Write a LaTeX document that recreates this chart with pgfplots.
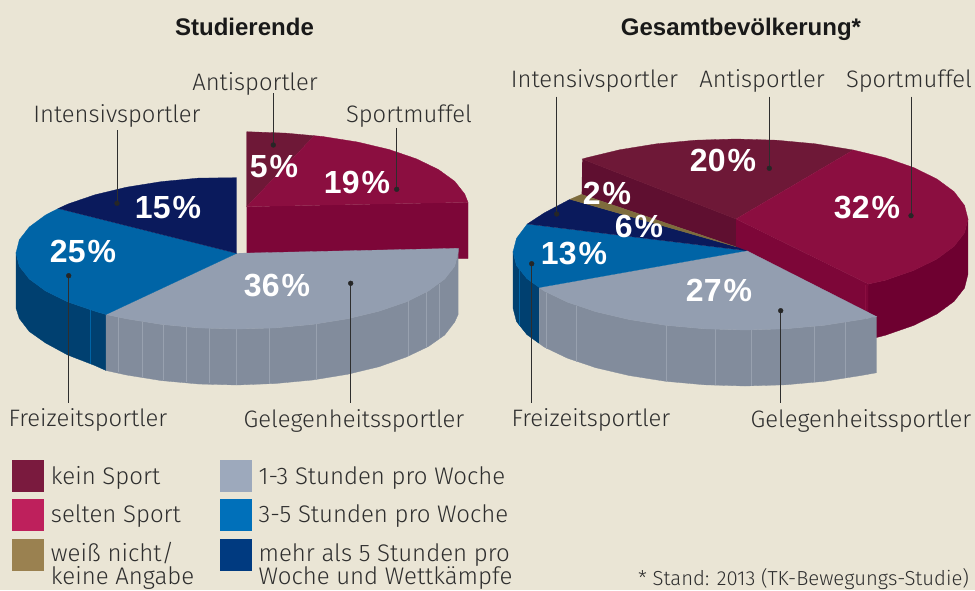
\documentclass[border=0pt]{standalone}
\usepackage{pgfplots}
\pgfplotsset{compat=1.18}
\usepackage{fontspec}
\setmainfont{Liberation Sans}
\newfontfamily\lightf{Fira Sans Light}
\definecolor{bg}{HTML}{EAE5D5}
\definecolor{ink}{HTML}{2E2E2E}
\definecolor{antitop}{HTML}{6E1837}
\definecolor{antiwall}{HTML}{5F0F30}
\definecolor{sporttop}{HTML}{8B0E40}
\definecolor{sportwall}{HTML}{7D0638}
\definecolor{sportside}{HTML}{6E0030}
\definecolor{graytop}{HTML}{939EB0}
\definecolor{grayside}{HTML}{828C9C}
\definecolor{grayline}{HTML}{98A1AF}
\definecolor{bluetop}{HTML}{0064A6}
\definecolor{blueside}{HTML}{004070}
\definecolor{navytop}{HTML}{0A1A5C}
\definecolor{goldtop}{HTML}{7E6C3D}
\definecolor{lega}{HTML}{7A1A3E}
\definecolor{legb}{HTML}{BE205C}
\definecolor{legc}{HTML}{9A8150}
\definecolor{legd}{HTML}{9DA9BC}
\definecolor{lege}{HTML}{0070BA}
\definecolor{legf}{HTML}{003A80}
\newcommand\poly[2]{\addplot[fill=#1,draw=#1,line width=0.3pt] coordinates {#2};}
\newcommand\seam[2]{\addplot[draw=#1,line width=0.5pt] coordinates {#2};}
\newcommand\lead[1]{\addplot[draw=ink,line width=0.9pt] coordinates {#1};}
\newcommand\dotm[1]{\addplot[only marks,mark=*,mark size=2.4pt,mark options={fill=black!85,draw=black!85}] coordinates {#1};}
\newcommand\lab[3]{\node[anchor=base,inner sep=0pt,text=ink,font=\lightf\fontsize{23.8}{23.8}\selectfont] at (axis cs:#1,#2) {#3};}
\newcommand\leg[3]{\node[anchor=base west,inner sep=0pt,text=ink,font=\lightf\fontsize{24}{24}\selectfont] at (axis cs:#1,#2) {#3};}
\newcommand\pct[3]{\node[anchor=base,inner sep=0pt,text=white,font=\fontsize{32}{32}\selectfont\bfseries] at (axis cs:#1,#2) {#3\hspace{2pt}\%};}
\newcommand\ttl[3]{\node[anchor=base,inner sep=0pt,text=black!90,font=\fontsize{24}{24}\selectfont\bfseries] at (axis cs:#1,#2) {#3};}
\begin{document}
\begin{tikzpicture}
\path[use as bounding box] (0,0) rectangle (975pt,590pt);
\fill[bg] (0,0) rectangle (975pt,590pt);
\begin{axis}[at={(0,0)},anchor=south west,scale only axis,width=975pt,height=590pt,
  xmin=0,xmax=975,ymin=0,ymax=590,y dir=reverse,hide axis,clip=false]
% ---- left pie: exploded red part
\poly{sportwall}{(246.7,206.7)(468,202.3)(468,258.5)(246.7,258.5)}
\poly{antitop}{(246.7,206.7)(246.7,131.7)(285.4,133.1)(314.3,135.7)}
\poly{sporttop}{(246.7,206.7)(314.3,135.7)(322.6,136.5)(357.5,142)(389.1,149.5)(416.3,158.8)(438.4,169.5)(454.7,181.3)(464.7,194)(468,202.3)}
% ---- left pie: sides
\poly{blueside}{(106,314.5)(94.9,311.2)(67.7,301.9)(45.6,291)(29.3,279)(19.3,266.2)(16,253)(16,308)(19.3,318.5)(29.3,331.5)(45.6,343)(67.7,355)(94.9,365.5)(106,370.5)}
\poly{grayside}{(458.3,248.3)(458,253)(454.7,266.2)(444.7,279)(428.4,291)(406.3,301.9)(379.1,311.2)(347.5,318.8)(312.6,324.4)(275.5,327.9)(237,329)(198.5,327.9)(161.4,324.4)(126.5,318.8)(106,314.5)(106,370.5)(126.5,375)(161.4,380.6)(198.5,384)(237,385)(275.5,383.5)(312.6,380)(347.5,374.3)(379.1,366.7)(406.3,357)(428.4,346.5)(444.7,335)(454.7,322)(458.3,314)}
\seam{grayline}{(118.3,317.1)(118.3,372)}
\seam{grayline}{(142.7,321.7)(142.7,376.7)}
\seam{grayline}{(163.3,324.7)(163.3,379.7)}
\seam{grayline}{(186.7,327)(186.7,382)}
\seam{grayline}{(209.3,328.4)(209.3,383.4)}
\seam{grayline}{(236,329)(236,384.5)}
\seam{grayline}{(269.3,328.2)(269.3,383.5)}
\seam{grayline}{(316,324)(316,379.5)}
\seam{grayline}{(408.3,301)(408.3,356)}
\seam{grayline}{(426.7,292)(426.7,347)}
\seam{grayline}{(439.3,283.6)(439.3,339)}
\seam{bluetop}{(90.7,310)(90.7,364)}
% ---- left pie: top
\poly{graytop}{(236.7,253.3)(458.3,248.3)(458,253)(454.7,266.2)(444.7,279)(428.4,291)(406.3,301.9)(379.1,311.2)(347.5,318.8)(312.6,324.4)(275.5,327.9)(237,329)(198.5,327.9)(161.4,324.4)(126.5,318.8)(106,314.5)}
\poly{bluetop}{(236.7,253.3)(106,314.5)(94.9,311.2)(67.7,301.9)(45.6,291)(29.3,279)(19.3,266.2)(16,253)(19.3,239.8)(29.3,227)(45.6,215)(58.3,208.5)}
\poly{navytop}{(236.7,253.3)(58.3,208.5)(67.7,204.1)(94.9,194.8)(126.5,187.2)(161.4,181.6)(198.5,178.1)(236.7,177.7)}
% ---- right pie: back
\poly{antiwall}{(582.3,159)(736,219)(736,246.7)(581.7,194.3)}
\poly{sportwall}{(736,219)(868.3,284)(876.7,317)(736,246.7)}
\poly{sportside}{(968,219)(964.5,232.9)(954,246.4)(936.9,259)(913.7,270.4)(885.2,280.3)(868.3,284)(868.3,339.6)(885.2,335.3)(913.7,325.4)(936.9,314)(954,301.4)(964.5,288)(968,274)}
\seam{sporttop}{(865,285)(865,340)}
\poly{antitop}{(736,219)(582.3,159)(586.8,157.7)(620,149.7)(656.7,143.8)(695.6,140.2)(736,139)(776.4,140.2)(815.3,143.8)(853.3,150)}
\poly{sporttop}{(736,219)(853.3,150)(885.2,157.7)(913.7,167.6)(936.9,179)(954,191.6)(964.5,205.4)(968,219)(964.5,232.9)(954,246.4)(936.9,259)(913.7,270.4)(885.2,280.3)(868.3,284)}
% ---- right pie: sides
\poly{blueside}{(539.3,287.5)(527,278.7)(516.5,265.6)(513,252)(513,308)(516.5,321.6)(527,334.7)(539.3,343.5)}
\poly{grayside}{(876.7,316.7)(861,319.5)(824.3,325.3)(785.4,328.8)(745,330)(704.6,328.8)(665.7,325.3)(629,319.5)(595.8,311.7)(567.3,302.1)(544.1,291)(539.3,287.5)(539.3,343.5)(544.1,347)(567.3,358.1)(595.8,367.7)(629,375.5)(665.7,381.3)(704.6,384.8)(745,386)(785.4,384.8)(824.3,381.3)(861,375.5)(876.7,372.7)}
\seam{grayline}{(546.7,292.5)(546.7,348.5)}
\seam{grayline}{(576.7,305.7)(576.7,361.7)}
\seam{grayline}{(666.7,325.4)(666.7,381.4)}
\seam{grayline}{(715.3,329.4)(715.3,385.4)}
\seam{grayline}{(751.7,330)(751.7,386)}
\seam{grayline}{(814.3,326.4)(814.3,382.4)}
\seam{grayline}{(845.7,322.3)(845.7,378.3)}
\seam{bluetop}{(519.3,270)(519.3,326)}
% ---- right pie: top
\poly{graytop}{(746.7,250.7)(876.7,316.7)(861,319.5)(824.3,325.3)(785.4,328.8)(745,330)(704.6,328.8)(665.7,325.3)(629,319.5)(595.8,311.7)(567.3,302.1)(544.1,291)(539.3,287.5)}
\poly{bluetop}{(746.7,250.7)(539.3,287.5)(527,278.7)(516.5,265.6)(513,252)(516.5,238.4)(527.3,224)}
\poly{navytop}{(746.7,250.7)(527.3,224)(544.1,213)(570,199.3)(736,246.7)}
\poly{goldtop}{(736,246.7)(570,199.3)(581.7,194.3)}
% ---- leaders
\lead{(273.3,93.3)(273.3,145)}
\lead{(117,130)(117,203.3)}
\lead{(396.7,128.3)(396.7,189.3)}
\lead{(68.7,275.7)(68.7,403)}
\lead{(350.7,283.3)(350.7,403)}
\lead{(556.7,96.7)(556.7,214)}
\lead{(769.3,96.7)(769.3,168.3)}
\lead{(911,96.7)(911,215.7)}
\lead{(531.7,263.7)(531.7,403)}
\lead{(780.7,310.7)(780.7,403)}
\dotm{(273.3,145)(117,203.3)(396.7,189.3)(68.7,275.7)(350.7,283.3)(556.7,214)(769.3,168.3)(911,215.7)(531.7,263.7)(780.7,310.7)}
% ---- legend swatches
\poly{lega}{(12.2,460)(43,460)(43,491.5)(12.2,491.5)}
\poly{legb}{(12.2,498.8)(43,498.8)(43,530)(12.2,530)}
\poly{legc}{(12.2,539)(43,539)(43,570.5)(12.2,570.5)}
\poly{legd}{(220,460)(251,460)(251,491.5)(220,491.5)}
\poly{lege}{(220,498.8)(251,498.8)(251,530)(220,530)}
\poly{legf}{(220,539)(251,539)(251,570.5)(220,570.5)}
% ---- text
\ttl{244.5}{35}{Studierende}
\ttl{741}{35}{Gesamtbevölkerung*}
\lab{255}{90}{Antisportler}
\lab{117}{122.7}{Intensivsportler}
\lab{409}{122.7}{Sportmuffel}
\lab{88}{426}{Freizeitsportler}
\lab{354}{427}{Gelegenheitssportler}
\lab{594.5}{87.7}{Intensivsportler}
\lab{762}{87.7}{Antisportler}
\lab{909}{87.7}{Sportmuffel}
\lab{591}{426}{Freizeitsportler}
\lab{861}{427}{Gelegenheitssportler}
\pct{274}{177.3}{5}
\pct{357}{193.3}{19}
\pct{168}{218.3}{15}
\pct{83}{262.7}{25}
\pct{277}{296.7}{36}
\pct{723}{171.7}{20}
\pct{867}{218.3}{32}
\pct{607}{204}{2}
\pct{639}{237.7}{6}
\pct{574}{264}{13}
\pct{719}{301.7}{27}
\leg{50.7}{484}{kein Sport}
\leg{50.7}{522.8}{selten Sport}
\leg{50.7}{561}{weiß nicht/}
\leg{50.7}{584.5}{keine Angabe}
\leg{258.4}{484}{1-3 Stunden pro Woche}
\leg{258.4}{522.8}{3-5 Stunden pro Woche}
\leg{258.4}{561}{mehr als 5 Stunden pro}
\leg{258.4}{584.5}{Woche und Wettkämpfe}
\node[anchor=base west,inner sep=0pt,text=ink,font=\lightf\fontsize{20.3}{20.3}\selectfont] at (axis cs:638,585) {* Stand: 2013 (TK-Bewegungs-Studie)};
\end{axis}
\end{tikzpicture}
\end{document}
